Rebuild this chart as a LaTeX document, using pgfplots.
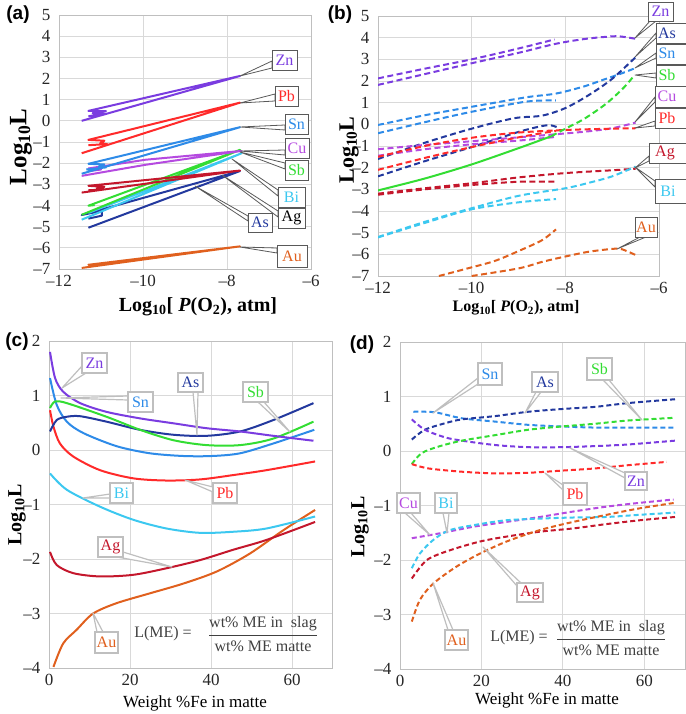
\documentclass[border=0pt]{standalone}
\usepackage{fontspec}
\setmainfont{Liberation Serif}
\newfontfamily\panelfont{Liberation Sans}
\usepackage{pgfplots}
\pgfplotsset{compat=1.18}

\definecolor{cZn}{HTML}{7A3CE0}
\definecolor{cPb}{HTML}{FF2A2A}
\definecolor{cSn}{HTML}{2E8BE8}
\definecolor{cCu}{HTML}{B54AE0}
\definecolor{cSb}{HTML}{33DD33}
\definecolor{cBi}{HTML}{3CC8F0}
\definecolor{cAg}{HTML}{C4172C}
\definecolor{cAs}{HTML}{23399E}
\definecolor{cAu}{HTML}{E0601E}
\definecolor{gridc}{HTML}{D9D9D9}
\definecolor{framec}{HTML}{BFBFBF}
\definecolor{dkc}{HTML}{595959}
\definecolor{ltc}{HTML}{BFBFBF}

\newcommand{\boxfont}{\rmfamily\fontsize{16}{18}\selectfont}
\newcommand{\clw}{0.8pt}
% #1 line colour, #2 text colour, #3 text, #4 #5 box corners, #6 text position, #7 tip, #8 #9 wedge base
\newcommand{\cbox}[9]{%
  \filldraw[draw=#1, fill=white, line width=\clw, line join=round] #7 -- #8 -- #9 -- cycle;
  \filldraw[draw=#1, fill=white, line width=\clw] #4 rectangle #5;
  \node[text=#2, font=\boxfont, inner sep=0pt] at #6 {#3};}

\pgfplotsset{
  panel/.style={scale only axis, anchor=south west, clip mode=individual,
    axis line style={draw=framec, line width=0.9pt},
    grid=major, major grid style={draw=gridc, line width=0.9pt},
    major tick length=0pt,
    ticklabel style={font=\rmfamily\fontsize{17}{19}\selectfont, text=black!85},
    xticklabel style={yshift=-3pt},
    yticklabel style={xshift=-5pt},
    /pgf/number format/assume math mode=true},
  pa/.style={panel, xmin=-12, xmax=-6, ymin=-7, ymax=5,
    xtick={-12,-10,-8,-6}, xticklabels={--12,--10,--8,--6},
    ytick={-7,-6,-5,-4,-3,-2,-1,0,1,2,3,4,5},
    yticklabels={--7,--6,--5,--4,--3,--2,--1,0,1,2,3,4,5}},
  pc/.style={panel, xmin=0, xmax=70, ymin=-4, ymax=2,
    xtick={0,20,40,60}, ytick={-4,-3,-2,-1,0,1,2},
    yticklabels={--4,--3,--2,--1,0,1,2}},
  sa/.style={line width=2pt, line join=round},
  db/.style={line width=2pt, smooth, dash pattern=on 6pt off 3.5pt},
  sc/.style={line width=2pt, smooth},
  dd/.style={line width=2pt, smooth, dash pattern=on 5pt off 3pt},
}

\begin{document}
\begin{tikzpicture}
\useasboundingbox (0pt,0pt) rectangle (685pt,-714pt);

% ---------------- (a)
\begin{axis}[pa, at={(59pt,-269pt)}, width=252pt, height=254pt]
\addplot[sa, cAu] coordinates {(-11.46,-6.95) (-7.69,-5.93) (-11.30,-6.80) (-11.05,-6.78) (-11.20,-6.88)};
\addplot[sa, cAs] coordinates {(-11.30,-5.05) (-7.69,-2.37) (-11.46,-4.45) (-10.98,-4.25) (-10.98,-4.48) (-11.30,-4.62)};
\addplot[sa, cBi] coordinates {(-11.46,-4.67) (-7.65,-1.53) (-11.30,-4.35)};
\addplot[sa, cSb] coordinates {(-11.46,-4.44) (-7.69,-1.37) (-11.30,-4.01) (-11.15,-3.98)};
\addplot[sa, cAg] coordinates {(-11.46,-3.39) (-7.69,-2.35) (-11.30,-3.07) (-10.92,-3.12) (-11.10,-3.20) (-10.90,-3.24) (-11.30,-3.28)};
\addplot[sa, cCu] coordinates {(-11.46,-2.60) (-9.95,-2.08) (-7.65,-1.42) (-9.95,-1.84) (-11.30,-2.25) (-11.00,-2.30) (-11.30,-2.38)};
\addplot[sa, cSn] coordinates {(-11.46,-2.50) (-7.69,-0.30) (-11.30,-2.03) (-10.92,-2.06) (-11.05,-2.16) (-10.88,-2.20) (-11.35,-2.30)};
\addplot[sa, cPb] coordinates {(-11.46,-1.53) (-7.69,0.86) (-11.30,-0.90) (-10.92,-0.94) (-11.02,-1.06) (-10.85,-1.10) (-11.30,-1.15)};
\addplot[sa, cZn] coordinates {(-11.46,0.00) (-7.69,2.12) (-11.30,0.47) (-10.88,0.46) (-11.20,0.36) (-10.90,0.33) (-11.30,0.22)};
\end{axis}

% ---------------- (b)
\begin{axis}[pa, at={(378pt,-276pt)}, width=281pt, height=260pt]
\addplot[db, cZn] coordinates {(-12,2.12) (-11,2.57) (-10,3.0) (-9,3.5) (-8.23,3.92)};
\addplot[db, cZn] coordinates {(-12,1.82) (-11,2.32) (-10,2.82) (-9,3.3) (-8.2,3.72) (-7.55,3.95) (-7.0,4.06) (-6.8,4.05) (-6.5,3.95)};
\addplot[db, cSn] coordinates {(-12,-0.03) (-11,0.42) (-10,0.81) (-8.83,1.25) (-8.2,1.42) (-7.6,1.75) (-7.2,2.05) (-6.8,2.35) (-6.5,2.6)};
\addplot[db, cSn] coordinates {(-12,-0.41) (-11,0.1) (-10,0.58) (-8.83,1.05) (-8.2,1.1)};
\addplot[db, cAs] coordinates {(-12,-1.6) (-11,-0.85) (-10,-0.2) (-9.1,0.28) (-8.5,0.4) (-8.0,0.75) (-7.5,1.35) (-7.0,2.1) (-6.5,3.1)};
\addplot[db, cAs] coordinates {(-12,-2.4) (-11,-1.7) (-10,-1.05) (-9,-0.35) (-8.5,-0.08) (-8.3,-0.05) (-8.12,-0.18)};
\addplot[db, cCu] coordinates {(-12,-1.15) (-11,-0.95) (-10,-0.78) (-9,-0.6) (-8,-0.42) (-7.5,-0.32) (-7,-0.18) (-6.5,0.08)};
\addplot[db, cCu] coordinates {(-12,-1.45) (-11,-1.15) (-10,-0.92) (-9,-0.75) (-8.2,-0.58)};
\addplot[db, cPb] coordinates {(-12,-1.5) (-11,-1.0) (-10,-0.62) (-9,-0.38) (-8,-0.26) (-7,-0.2) (-6.5,-0.18)};
\addplot[db, cPb] coordinates {(-12,-2.1) (-11,-1.55) (-10,-1.05) (-9,-0.6) (-8.2,-0.3)};
\addplot[sc, cSb] coordinates {(-12,-3.05) (-11,-2.5) (-10,-1.85) (-9,-1.1) (-8.3,-0.55)};
\addplot[db, cSb] coordinates {(-8.3,-0.55) (-8,-0.2) (-7.6,0.25) (-7.13,0.95) (-6.75,1.7) (-6.52,2.28)};
\addplot[db, cAg] coordinates {(-12,-3.2) (-11,-2.95) (-10,-2.72) (-9,-2.45) (-8,-2.25) (-7,-2.12) (-6.5,-2.05)};
\addplot[db, cAg] coordinates {(-12,-3.25) (-11,-3.0) (-10,-2.8) (-9,-2.65) (-8.2,-2.65)};
\addplot[db, cBi] coordinates {(-12,-5.2) (-11,-4.5) (-10,-3.87) (-9,-3.3) (-8,-2.95) (-7.5,-2.7) (-7,-2.4) (-6.5,-1.95)};
\addplot[db, cBi] coordinates {(-12,-5.22) (-11,-4.55) (-10,-3.92) (-9,-3.6) (-8.2,-3.45)};
\addplot[db, cAu] coordinates {(-10.7,-7.0) (-10,-6.6) (-9.5,-6.3) (-9,-5.85) (-8.5,-5.35) (-8.2,-4.85)};
\addplot[db, cAu] coordinates {(-10.0,-7.0) (-9,-6.65) (-8.5,-6.35) (-8,-6.1) (-7.5,-5.88) (-7,-5.75) (-6.8,-5.76) (-6.5,-6.03)};
\end{axis}

% ---------------- (c)
\begin{axis}[pc, at={(49pt,-668pt)}, width=283.5pt, height=327pt]
\addplot[sc, cAu] coordinates {(1.1,-3.98) (3.5,-3.55) (6.8,-3.30) (10.9,-3.0) (16.7,-2.81) (24.9,-2.63) (33.2,-2.45) (41.4,-2.23) (49.6,-1.90) (57.9,-1.47) (65.7,-1.10)};
\addplot[sc, cAg] coordinates {(0.25,-1.87) (1.9,-2.11) (6,-2.26) (12.6,-2.32) (20.8,-2.29) (29,-2.17) (37.3,-2.02) (45.5,-1.83) (53.7,-1.65) (65.7,-1.32)};
\addplot[sc, cBi] coordinates {(0.25,-0.43) (4.4,-0.73) (12.6,-1.04) (20.8,-1.28) (29,-1.44) (37.3,-1.52) (45.5,-1.50) (53.7,-1.44) (65.7,-1.22)};
\addplot[sc, cPb] coordinates {(0.25,0.73) (1.1,0.43) (2.7,0.12) (6,-0.12) (12.6,-0.37) (20.8,-0.52) (29,-0.56) (37.3,-0.54) (45.5,-0.46) (53.7,-0.37) (65.7,-0.21)};
\addplot[sc, cSn] coordinates {(0.25,1.32) (1.9,0.83) (4.4,0.52) (8.5,0.31) (16.7,0.07) (24.9,-0.06) (33.2,-0.11) (40.3,-0.11) (47.2,-0.06) (55.4,0.12) (65.5,0.37)};
\addplot[sc, cAs] coordinates {(0.25,0.34) (1.9,0.55) (4.4,0.61) (7.7,0.62) (14.2,0.52) (22.5,0.37) (30.7,0.28) (38.9,0.26) (47.2,0.34) (55.4,0.55) (65.3,0.86)};
\addplot[sc, cSb] coordinates {(0.25,0.77) (1.5,0.89) (4.4,0.86) (14.2,0.61) (22.5,0.37) (30.7,0.18) (38.9,0.09) (47.2,0.09) (55.4,0.21) (65.3,0.52)};
\addplot[sc, cZn] coordinates {(0.25,1.80) (1.5,1.32) (3.5,1.07) (7.7,0.86) (14.2,0.70) (22.5,0.58) (30.7,0.49) (38.9,0.40) (47.2,0.34) (55.4,0.26) (65.3,0.17)};
\end{axis}

% ---------------- (d)
\begin{axis}[pc, at={(400pt,-669pt)}, width=285pt, height=327pt]
\addplot[dd, cSn] coordinates {(3.3,0.72) (8.6,0.71) (15.2,0.60) (23.3,0.54) (31.5,0.48) (39.7,0.45) (47.9,0.43) (56.1,0.43) (67.6,0.43)};
\addplot[dd, cAs] coordinates {(2.9,0.21) (6.1,0.39) (11.1,0.51) (15.2,0.58) (23.3,0.64) (31.5,0.72) (39.7,0.77) (47.9,0.81) (56.1,0.88) (67.6,0.95)};
\addplot[dd, cZn] coordinates {(2.9,0.58) (6.1,0.39) (11.1,0.25) (15.2,0.19) (23.3,0.11) (31.5,0.07) (39.7,0.07) (47.9,0.09) (56.1,0.12) (67.6,0.19)};
\addplot[dd, cSb] coordinates {(2.9,-0.24) (5.3,-0.04) (9.4,0.08) (15.2,0.19) (23.3,0.29) (31.5,0.39) (39.7,0.45) (47.9,0.50) (56.1,0.56) (67.6,0.61)};
\addplot[dd, cPb] coordinates {(2.9,-0.24) (7,-0.32) (15.2,-0.38) (23.3,-0.41) (31.5,-0.40) (39.7,-0.36) (47.9,-0.32) (56.1,-0.26) (65.5,-0.20)};
\addplot[dd, cCu] coordinates {(2.9,-1.60) (9.8,-1.51) (18,-1.39) (26.2,-1.30) (34.4,-1.21) (42.6,-1.11) (50.8,-1.02) (59,-0.95) (67.2,-0.89)};
\addplot[dd, cBi] coordinates {(2.9,-2.15) (4.9,-1.88) (8.2,-1.63) (12.3,-1.45) (19.7,-1.34) (26.2,-1.27) (34.4,-1.24) (42.6,-1.22) (50.8,-1.21) (59,-1.17) (67.6,-1.13)};
\addplot[dd, cAg] coordinates {(2.9,-2.34) (6.6,-2.0) (12.3,-1.82) (19.7,-1.66) (26.2,-1.57) (34.4,-1.48) (42.6,-1.42) (50.8,-1.34) (59,-1.27) (67.6,-1.21)};
\addplot[dd, cAu] coordinates {(2.9,-3.13) (4.9,-2.73) (8.2,-2.43) (13.9,-2.12) (19.7,-1.88) (26.2,-1.66) (34.4,-1.45) (42.6,-1.30) (50.8,-1.17) (59,-1.05) (67.6,-0.95)};
\end{axis}

% ---------------- annotations, in pixel units from the top left
\begin{scope}[x=1pt, y=-1pt]
\node[font=\panelfont\bfseries\fontsize{19}{21}\selectfont] at (18,15) {(a)};
\node[font=\panelfont\bfseries\fontsize{19}{21}\selectfont] at (340,15) {(b)};
\node[font=\panelfont\bfseries\fontsize{19}{21}\selectfont] at (17,342) {(c)};
\node[font=\panelfont\bfseries\fontsize{19}{21}\selectfont] at (362,345) {(d)};

\node[rotate=90, font=\bfseries\fontsize{25}{27}\selectfont] at (21,147) {Log\textsubscript{10}L};
\node[font=\bfseries\fontsize{20}{22}\selectfont] at (198,307) {Log\textsubscript{10}[ \textit{P}(O\textsubscript{2}), atm]};
\node[rotate=90, font=\bfseries\fontsize{22}{24}\selectfont] at (349,150) {Log\textsubscript{10}L};
\node[font=\bfseries\fontsize{16}{18}\selectfont] at (516,308) {Log\textsubscript{10}[ \textit{P}(O\textsubscript{2}), atm]};
\node[rotate=90, font=\bfseries\fontsize{20}{22}\selectfont] at (17,515) {Log\textsubscript{10}L};
\node[font=\fontsize{17}{19}\selectfont] at (195,703) {Weight \%Fe in matte};
\node[rotate=90, font=\bfseries\fontsize{20}{22}\selectfont] at (360,527) {Log\textsubscript{10}L};
\node[font=\fontsize{17}{19}\selectfont] at (547,700) {Weight \%Fe in matte};

% callouts (a)
\cbox{dkc}{cZn}{Zn}{(272,50)}{(297,70)}{(284.5,60)}{(240,76)}{(272,61)}{(272,68)}
\cbox{dkc}{cPb}{Pb}{(275,86)}{(298,106)}{(286.5,96)}{(240,103)}{(275,94)}{(275,101)}
\cbox{dkc}{cSn}{Sn}{(285,114)}{(308,134)}{(296.5,124)}{(240,127)}{(285,125)}{(285,130)}
\cbox{dkc}{cCu}{Cu}{(285,138)}{(309,158)}{(297,148)}{(240,151)}{(285,150)}{(285,155)}
\cbox{dkc}{cSb}{Sb}{(285,160)}{(308,180)}{(296.5,170)}{(240,152)}{(285,163)}{(285,169)}
\cbox{dkc}{cBi}{Bi}{(278,187)}{(305,207)}{(291.5,197)}{(232,159)}{(278,190)}{(278,196)}
\cbox{dkc}{black}{Ag}{(278,208)}{(305,228)}{(291.5,218)}{(222,175)}{(278,211)}{(278,217)}
\cbox{dkc}{cAs}{As}{(248,213)}{(272,232)}{(260,222.5)}{(195,186)}{(248,216)}{(248,221)}
\cbox{dkc}{cAu}{Au}{(277,245)}{(307,267)}{(292,256)}{(240,247)}{(277,248)}{(277,253)}

% callouts (b)
\cbox{dkc}{cZn}{Zn}{(648,2)}{(673,21)}{(660.5,11.5)}{(635,38)}{(650,21)}{(656,21)}
\cbox{dkc}{cAs}{As}{(656,23)}{(700,43)}{(667,33)}{(635,57)}{(656,33)}{(656,38)}
\cbox{dkc}{cSn}{Sn}{(656,44)}{(700,64)}{(667,53)}{(635,68)}{(656,53)}{(656,58)}
\cbox{dkc}{cSb}{Sb}{(656,65)}{(700,86)}{(667,75)}{(635,75)}{(656,73)}{(656,78)}
\cbox{dkc}{cCu}{Cu}{(655,86)}{(700,107)}{(667,96)}{(635,122)}{(655,97)}{(655,102)}
\cbox{dkc}{cPb}{Pb}{(655,108)}{(700,128)}{(667,118)}{(635,128)}{(655,121)}{(655,126)}
\cbox{dkc}{cAg}{Ag}{(649,143)}{(700,163)}{(665,153)}{(635,168)}{(649,156)}{(649,161)}
\cbox{dkc}{cBi}{Bi}{(655,179)}{(700,203)}{(668,191)}{(635,167)}{(655,181)}{(655,187)}
\cbox{dkc}{cAu}{Au}{(635,217)}{(657,237)}{(646,227)}{(617,249)}{(640,237)}{(646,237)}

\renewcommand{\clw}{1.2pt}
% callouts (c)
\cbox{ltc}{cZn}{Zn}{(82,353)}{(107,373)}{(94.5,363)}{(62,388)}{(82,366)}{(86,373)}
\cbox{ltc}{cSn}{Sn}{(128,392)}{(153,412)}{(140.5,402)}{(61,398)}{(128,396)}{(128,400)}
\cbox{ltc}{cAs}{As}{(178,373)}{(203,392)}{(190.5,382)}{(197,435)}{(193,392)}{(198,392)}
\cbox{ltc}{cSb}{Sb}{(243,382)}{(268,402)}{(255.5,392)}{(290,432)}{(258,402)}{(264,402)}
\cbox{ltc}{cPb}{Pb}{(213,483)}{(237,503)}{(225,493)}{(185,480)}{(213,487)}{(213,492)}
\cbox{ltc}{cBi}{Bi}{(110,483)}{(133,503)}{(121.5,493)}{(83,498)}{(110,494)}{(110,498)}
\cbox{ltc}{cAg}{Ag}{(98,537)}{(123,557)}{(110.5,547)}{(172,567)}{(117,557)}{(123,552)}
\cbox{ltc}{cAu}{Au}{(95,632)}{(118,653)}{(106.5,642.5)}{(93,613)}{(97,632)}{(103,632)}

% callouts (d)
\cbox{ltc}{cSn}{Sn}{(478,363)}{(502,385)}{(490,374)}{(433,413)}{(478,378)}{(478,384)}
\cbox{ltc}{cAs}{As}{(532,372)}{(558,392)}{(545,382)}{(525,413)}{(536,392)}{(541,392)}
\cbox{ltc}{cSb}{Sb}{(587,358)}{(612,380)}{(599.5,369)}{(642,420)}{(603,380)}{(609,380)}
\cbox{ltc}{cZn}{Zn}{(625,472)}{(647,490)}{(636,481)}{(570,448)}{(625,473)}{(625,478)}
\cbox{ltc}{cPb}{Pb}{(563,483)}{(587,505)}{(575,494)}{(545,473)}{(563,485)}{(563,490)}
\cbox{ltc}{cCu}{Cu}{(397,493)}{(420,513)}{(408.5,503)}{(430,535)}{(405,513)}{(411,513)}
\cbox{ltc}{cBi}{Bi}{(435,493)}{(457,513)}{(446,503)}{(447,533)}{(443,513)}{(449,513)}
\cbox{ltc}{cAg}{Ag}{(517,583)}{(543,602)}{(530,592.5)}{(483,547)}{(517,586)}{(521,583)}
\cbox{ltc}{cAu}{Au}{(445,630)}{(468,650)}{(456.5,640)}{(433,583)}{(448,630)}{(453,630)}

% formula boxes
\node[font=\fontsize{16}{18}\selectfont, text=black!75] at (163,634) {L(ME) =};
\node[font=\fontsize{16}{18}\selectfont, text=black!75] at (263,634) {$\displaystyle\frac{\mbox{wt\% ME in\ \ slag}}{\mbox{wt\% ME matte}}$};
\node[font=\fontsize{16}{18}\selectfont, text=black!75] at (519,638) {L(ME) =};
\node[font=\fontsize{16}{18}\selectfont, text=black!75] at (611,638) {$\displaystyle\frac{\mbox{wt\% ME in\ \ slag}}{\mbox{wt\% ME matte}}$};
\end{scope}
\end{tikzpicture}
\end{document}
